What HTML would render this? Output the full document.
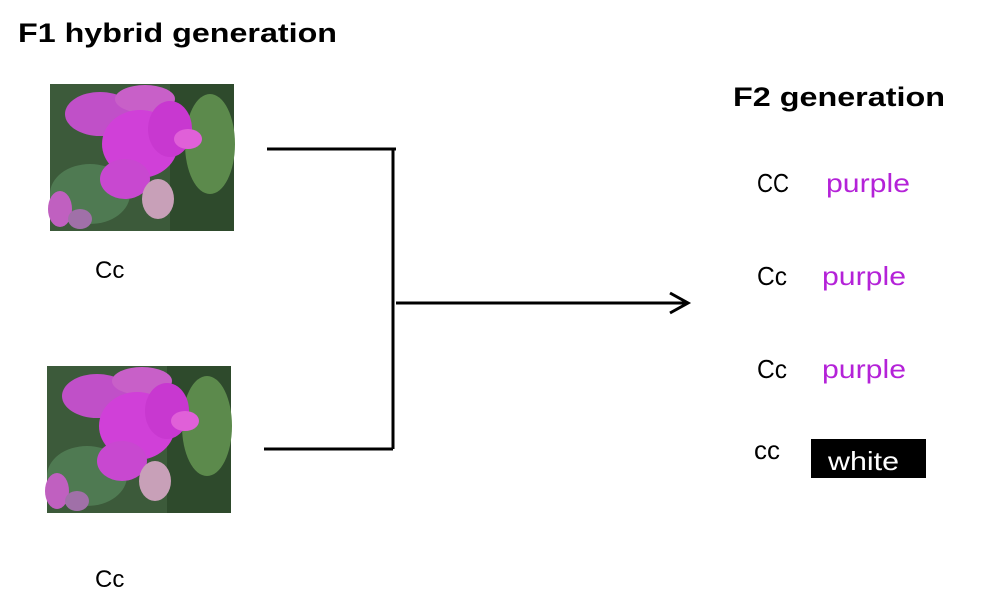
<!DOCTYPE html>
<html><head><style>body{margin:0;background:#fff}svg{display:block}</style></head>
<body>
<svg width="982" height="608" xmlns="http://www.w3.org/2000/svg" font-family="Liberation Sans, sans-serif">
<defs>
<g id="fl">
<rect width="184" height="147" fill="#3c5a3a"/>
<rect x="120" y="0" width="64" height="147" fill="#2e4a2c"/>
<ellipse cx="40" cy="110" rx="40" ry="30" fill="#4f7a52"/>
<ellipse cx="160" cy="60" rx="25" ry="50" fill="#5c8a4c"/>
<ellipse cx="50" cy="30" rx="35" ry="22" fill="#c050c8"/>
<ellipse cx="95" cy="15" rx="30" ry="14" fill="#c860c8"/>
<ellipse cx="90" cy="60" rx="38" ry="34" fill="#d040d8"/>
<ellipse cx="120" cy="45" rx="22" ry="28" fill="#c838d0"/>
<ellipse cx="75" cy="95" rx="25" ry="20" fill="#c848d0"/>
<ellipse cx="138" cy="55" rx="14" ry="10" fill="#e060d8"/>
<ellipse cx="108" cy="115" rx="16" ry="20" fill="#c8a0b8"/>
<ellipse cx="10" cy="125" rx="12" ry="18" fill="#c060c0"/>
<ellipse cx="30" cy="135" rx="12" ry="10" fill="#a070a8"/>
</g>
</defs>
<text x="18" y="42" font-size="27" font-weight="bold" textLength="319" lengthAdjust="spacingAndGlyphs">F1 hybrid generation</text>
<text x="733" y="106" font-size="27" font-weight="bold" textLength="212" lengthAdjust="spacingAndGlyphs">F2 generation</text>
<use href="#fl" x="50" y="84"/>
<use href="#fl" x="47" y="366"/>
<text x="95" y="278" font-size="24">Cc</text>
<text x="95" y="587" font-size="24">Cc</text>
<g stroke="#000" stroke-width="3" fill="none">
<path d="M267 149H396M393 149V449M264 449H393M396 303H686M670 293L688 303L670 313"/>
</g>
<g font-size="26">
<text x="757" y="192" textLength="32" lengthAdjust="spacingAndGlyphs">CC</text><text x="826" y="192" fill="#b422d8" textLength="84" lengthAdjust="spacingAndGlyphs">purple</text>
<text x="757" y="285" textLength="30" lengthAdjust="spacingAndGlyphs">Cc</text><text x="822" y="285" fill="#b422d8" textLength="84" lengthAdjust="spacingAndGlyphs">purple</text>
<text x="757" y="378" textLength="30" lengthAdjust="spacingAndGlyphs">Cc</text><text x="822" y="378" fill="#b422d8" textLength="84" lengthAdjust="spacingAndGlyphs">purple</text>
<text x="754" y="459" textLength="26" lengthAdjust="spacingAndGlyphs">cc</text>
<rect x="811" y="439" width="115" height="39" fill="#000"/>
<text x="828" y="470" fill="#fff" textLength="71" lengthAdjust="spacingAndGlyphs">white</text>
</g>
</svg>
</body></html>
